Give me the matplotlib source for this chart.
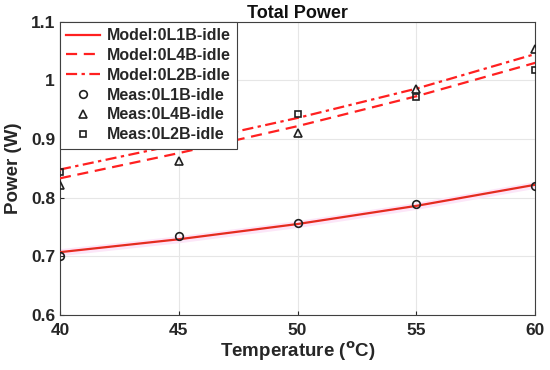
import numpy as np
import matplotlib.pyplot as plt

plt.rcParams['font.family'] = ['Liberation Sans', 'DejaVu Sans']
plt.rcParams['font.weight'] = 'bold'

temps = [40, 45, 50, 55, 60]

# model curves
model_l1b = [0.707, 0.729, 0.755, 0.786, 0.822]
model_l4b = [0.833, 0.876, 0.922, 0.973, 1.030]
model_l2b = [0.848, 0.891, 0.936, 0.986, 1.045]

# measurements
meas_l1b = [0.700, 0.735, 0.757, 0.790, 0.820]
meas_l4b = [0.822, 0.862, 0.911, 0.986, 1.054]
meas_l2b = [0.843, 0.890, 0.942, 0.972, 1.018]

fig = plt.figure(figsize=(5.5, 3.7), dpi=100)
ax = fig.add_axes([0.109, 0.149, 0.864, 0.792])

red = '#ff2020'
ax.fill_between(temps, np.array(model_l1b) - 0.006, np.array(model_l1b) + 0.006,
                color='#fce6f8', lw=0, zorder=1)
ax.plot(temps, model_l1b, '-', color=red, lw=1.6, label='Model:0L1B-idle', zorder=3)
ax.plot(temps, model_l1b, '-', color='#8a5a20', lw=0.5, alpha=0.6, zorder=3)
ax.plot(temps, model_l4b, '--', color=red, lw=1.6, dashes=(5, 3), label='Model:0L4B-idle', zorder=3)
ax.plot(temps, model_l2b, '-.', color=red, lw=1.6, dashes=(5, 2, 1.5, 2), label='Model:0L2B-idle', zorder=3)
ax.plot(temps, meas_l1b, 'o', mfc='none', mec='#202020', mew=1.2, ms=5.5, label='Meas:0L1B-idle', zorder=4)
ax.plot(temps, meas_l4b, '^', mfc='none', mec='#202020', mew=1.2, ms=5.5, label='Meas:0L4B-idle', zorder=4)
ax.plot(temps, meas_l2b, 's', mfc='none', mec='#202020', mew=1.2, ms=5, label='Meas:0L2B-idle', zorder=4)

ax.set_xlim(40, 60)
ax.set_ylim(0.6, 1.1)
ax.set_xticks(temps)
ax.set_yticks([0.6, 0.7, 0.8, 0.9, 1.0, 1.1])
ax.set_yticklabels(['0.6', '0.7', '0.8', '0.9', '1', '1.1'])
ax.grid(True, color='#e6e6e6', lw=0.8)
ax.set_axisbelow(True)
for s in ax.spines.values():
    s.set_color('#404040')
    s.set_linewidth(0.8)
ax.tick_params(labelsize=12.5, colors='#262626', direction='in', length=3)
ax.tick_params(axis='x', pad=6)

ax.set_title('Total Power', fontsize=13, fontweight='bold', color='#101010', pad=3)
ax.set_xlabel('Temperature ($^{\\mathbf{o}}$C)', fontsize=13.5, fontweight='bold', color='#262626', labelpad=1)
ax.set_ylabel('Power (W)', fontsize=13.5, fontweight='bold', color='#262626', labelpad=6)

leg = ax.legend(loc='upper left', fontsize=11.5, frameon=True, fancybox=False,
                borderaxespad=0, handlelength=2.1, handletextpad=0.45,
                labelspacing=0.3, borderpad=0.4)
leg.get_frame().set_edgecolor('#404040')
leg.get_frame().set_linewidth(0.8)
leg.get_frame().set_alpha(1)
leg.set_zorder(10)
for t in leg.get_texts():
    t.set_color('#262626')

fig.savefig('out.png', dpi=100)
